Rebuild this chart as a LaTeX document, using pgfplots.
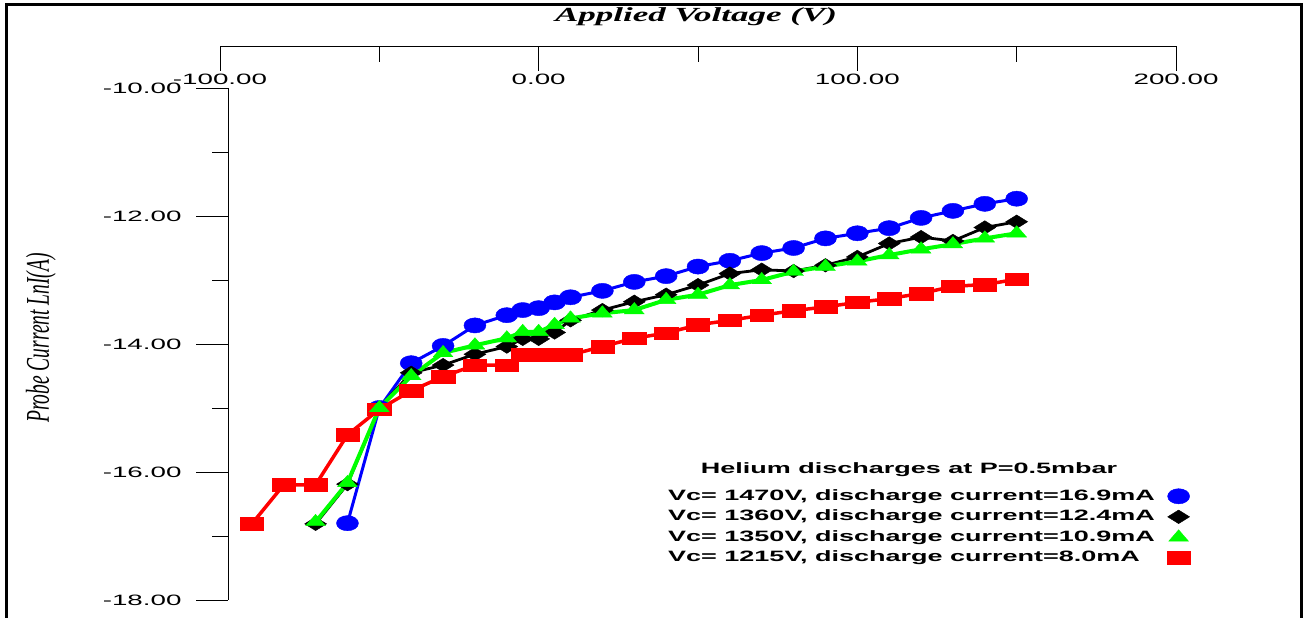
\documentclass[border=0pt]{standalone}
\usepackage{pgfplots}
\pgfplotsset{compat=1.18}
\usepackage{fontspec}
\setmainfont{Liberation Sans}
\newfontfamily\tickfont[FakeStretch=1.85]{Liberation Sans}
\newfontfamily\legfont[FakeStretch=1.8]{Liberation Sans}
\newfontfamily\titlefont[FakeStretch=1.75]{Liberation Serif}
\newfontfamily\ylabfont{Liberation Serif}
\pgfplotsset{
  marklegend/.style={legend image code/.code={\draw[##1] plot coordinates {(0pt,0pt)};}},
  sblue/.style={color=blue, line width=3pt, mark=*, mark size=7.6pt, mark options={solid, line width=0.4pt, xscale=1.45}},
  sblack/.style={color=black, line width=2.8pt, mark=diamond*, mark size=6.8pt, mark options={solid, line width=0.4pt, xscale=2.15}},
  sgreen/.style={color=green, line width=4pt, mark=triangle*, mark size=7.6pt, mark options={solid, line width=0.4pt, xscale=1.5}},
  sred/.style={color=red, line width=3.5pt, mark=square*, mark size=6.3pt, mark options={solid, line width=0.4pt, xscale=1.85}},
}
\begin{document}
\begin{tikzpicture}
\useasboundingbox (0,0) rectangle (1309pt,618pt);
\draw[line width=3pt] (6.5pt,-20pt) -- (6.5pt,613pt) -- (1301pt,613pt) -- (1301pt,-20pt);
\node at (696pt,601pt) {\titlefont\bfseries\itshape\fontsize{20pt}{20pt}\selectfont Applied Voltage (V)};
\node at (41pt,280pt) {\rotatebox{90}{\scalebox{1}[1.7]{\ylabfont\itshape\fontsize{19.5pt}{19.5pt}\selectfont Probe Current LnI(A)}}};
% top x axis
\begin{axis}[at={(220pt,572pt)}, anchor=south west, scale only axis,
  width=956pt, height=20pt, xmin=-100, xmax=200, ymin=0, ymax=1,
  axis x line=bottom, axis y line=none, axis line style={-, line width=0.9pt},
  tick align=outside, xtick={-100,0,100,200},
  xticklabels={-100.00,0.00,100.00,200.00}, minor xtick={-50,50,150},
  major tick length=25pt, minor tick length=16pt,
  every tick/.style={black, line width=0.9pt},
  xticklabel style={font=\tickfont\fontsize{15pt}{15pt}\selectfont}]
\end{axis}
% left y axis
\begin{axis}[at={(228pt,18pt)}, anchor=south west, scale only axis,
  width=20pt, height=512pt, xmin=0, xmax=1, ymin=-18, ymax=-10,
  axis y line=left, axis x line=none, axis line style={-, line width=0.9pt},
  tick align=outside, ytick={-18,-16,-14,-12,-10},
  yticklabels={-18.00,-16.00,-14.00,-12.00,-10.00}, minor ytick={-17,-15,-13,-11},
  major tick length=32pt, minor tick length=16pt,
  every tick/.style={black, line width=0.9pt},
  yticklabel style={font=\tickfont\fontsize{15pt}{15pt}\selectfont, xshift=-11pt}]
\end{axis}
% data
\begin{axis}[at={(220pt,18pt)}, anchor=south west, scale only axis,
  width=956pt, height=512pt, xmin=-100, xmax=200, ymin=-18, ymax=-10,
  axis lines=none, clip=false, marklegend,
  legend plot pos=right, legend cell align=left,
  legend style={at={(rel axis cs:0.4686,0.2178)}, anchor=north west, draw=none, fill=none,
    inner sep=0pt, row sep=5.7pt, column sep=12pt,
    font=\legfont\bfseries\fontsize{15pt}{15pt}\selectfont,
    nodes={inner sep=0pt, text height=11pt, text depth=3.5pt}}]
\addplot[sblue, forget plot] coordinates {
(-60,-16.80) (-50,-15.00) (-40,-14.30) (-30,-14.03) (-20,-13.71) (-10,-13.55)
(-5,-13.47) (0,-13.44) (5,-13.35) (10,-13.27) (20,-13.17) (30,-13.03)
(40,-12.94) (50,-12.79) (60,-12.70) (70,-12.58) (80,-12.50) (90,-12.35)
(100,-12.27) (110,-12.19) (120,-12.03) (130,-11.92) (140,-11.81) (150,-11.73)};
\addplot[sblack, forget plot] coordinates {
(-70,-16.81) (-60,-16.19) (-50,-15.00) (-40,-14.45) (-30,-14.33) (-20,-14.16)
(-10,-14.04) (-5,-13.92) (0,-13.92) (5,-13.82) (10,-13.63) (20,-13.47)
(30,-13.34) (40,-13.23) (50,-13.08) (60,-12.90) (70,-12.84) (80,-12.86)
(90,-12.77) (100,-12.64) (110,-12.43) (120,-12.33) (130,-12.39) (140,-12.18) (150,-12.09)};
\addplot[sred, forget plot] coordinates {
(-90,-16.81) (-80,-16.20) (-70,-16.20) (-60,-15.42) (-50,-15.02) (-40,-14.73)
(-30,-14.51) (-20,-14.33) (-10,-14.33) (-5,-14.17) (0,-14.17) (5,-14.17)
(10,-14.17) (20,-14.04) (30,-13.91) (40,-13.83) (50,-13.70) (60,-13.63)
(70,-13.55) (80,-13.48) (90,-13.42) (100,-13.35) (110,-13.29) (120,-13.21)
(130,-13.10) (140,-13.07) (150,-12.99)};
\addplot[sgreen, forget plot] coordinates {
(-70,-16.78) (-60,-16.17) (-50,-15.00) (-40,-14.50) (-30,-14.14) (-20,-14.02)
(-10,-13.91) (-5,-13.81) (0,-13.81) (5,-13.70) (10,-13.60) (20,-13.52)
(30,-13.47) (40,-13.31) (50,-13.23) (60,-13.08) (70,-13.00) (80,-12.87)
(90,-12.79) (100,-12.71) (110,-12.61) (120,-12.52) (130,-12.44) (140,-12.35) (150,-12.27)};
\addlegendimage{sblue}
\addlegendentry{Vc= 1470V, discharge current=16.9mA}
\addlegendimage{sblack}
\addlegendentry{Vc= 1360V, discharge current=12.4mA}
\addlegendimage{sgreen}
\addlegendentry{Vc= 1350V, discharge current=10.9mA}
\addlegendimage{sred}
\addlegendentry{Vc= 1215V, discharge current=8.0mA}
\end{axis}
\node at (909pt,148pt) {\legfont\bfseries\fontsize{15pt}{15pt}\selectfont Helium discharges at P=0.5mbar};
\end{tikzpicture}
\end{document}
